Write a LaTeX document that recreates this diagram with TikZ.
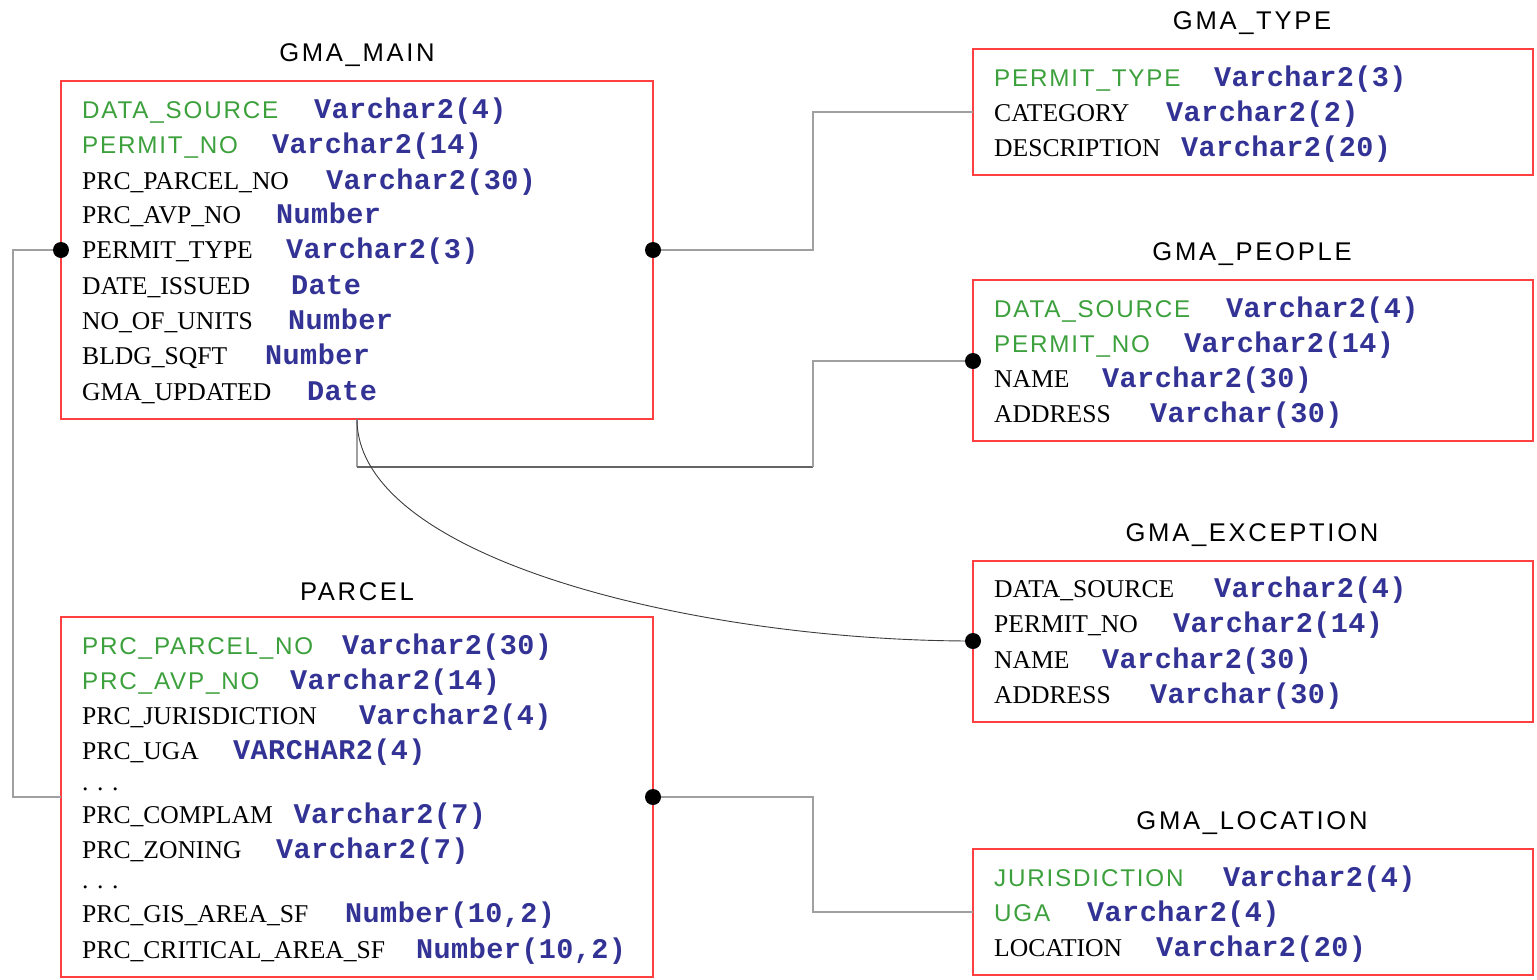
\documentclass[tikz,border=0pt]{standalone}
\usepackage{fontspec}
\setmainfont{Liberation Serif}
\newfontfamily\keyfont[LetterSpace=7.5]{Liberation Sans}
\newfontfamily\titlefont[LetterSpace=10.5]{Liberation Sans}
\newfontfamily\typefont[LetterSpace=1.5]{Liberation Mono}
\definecolor{boxred}{RGB}{255,64,64}
\definecolor{keygreen}{RGB}{60,160,60}
\definecolor{typeblue}{RGB}{51,51,150}
\definecolor{conngray}{RGB}{160,160,160}
\definecolor{conndark}{RGB}{100,100,100}
\definecolor{curvegray}{RGB}{60,60,60}
\begin{document}
\begin{tikzpicture}[x=1pt,y=-1pt,
  tbl/.style={anchor=north west, inner sep=0pt, outer sep=0pt},
  boxline/.style={draw=boxred, line width=1.3pt},
  ttl/.style={font={\titlefont\fontsize{25.6}{30}\selectfont}, anchor=base, inner sep=0pt},
  key/.style={font={\keyfont\fontsize{24.2}{28}\selectfont}, text=keygreen, anchor=base west, inner sep=0pt},
  fld/.style={font={\fontsize{25.6}{30}\selectfont}, anchor=base west, inner sep=0pt},
  typ/.style={font={\typefont\bfseries\fontsize{28.5}{30}\selectfont}, text=typeblue, anchor=base west, inner sep=0pt},
  dotc/.style={circle, fill=black, inner sep=0pt, minimum size=16pt},
  conn/.style={draw=conngray, line width=1.2pt},
  conndk/.style={draw=conndark, line width=1.2pt},
  curve/.style={draw=curvegray, line width=0.9pt}]
\useasboundingbox (0,0) rectangle (1537,980);

% ---------- tables ----------
\node[tbl, minimum width=592pt, minimum height=338pt] (main) at (61,81) {};
\node[tbl, minimum width=560pt, minimum height=126pt] (type) at (973,49) {};
\node[tbl, minimum width=560pt, minimum height=161pt] (people) at (973,280) {};
\node[tbl, minimum width=560pt, minimum height=161pt] (exc) at (973,561) {};
\node[tbl, minimum width=560pt, minimum height=126pt] (loc) at (973,849) {};
\node[tbl, minimum width=592pt, minimum height=360pt] (parcel) at (61,617) {};
\foreach \t in {main,type,people,exc,loc,parcel}
  \draw[boxline] (\t.north west) rectangle (\t.south east);

% ---------- titles ----------
\node[ttl] (tmain) at (357,61) {GMA\_MAIN};
\node[ttl] (ttype) at (1252,29) {GMA\_TYPE};
\node[ttl] (tpeople) at (1252,260) {GMA\_PEOPLE};
\node[ttl] (texc) at (1252,541) {GMA\_EXCEPTION};
\node[ttl] (tloc) at (1252,829) {GMA\_LOCATION};
\node[ttl] (tparcel) at (357,600) {PARCEL};

% ---------- GMA_MAIN fields ----------
\node[key] (m1n) at (82,118) {DATA\_SOURCE};
\node[typ] (m1t) at (314,118) {Varchar2(4)};
\node[key] (m2n) at (82,153) {PERMIT\_NO};
\node[typ] (m2t) at (272,153) {Varchar2(14)};
\node[fld] (m3n) at (82,189) {PRC\_PARCEL\_NO};
\node[typ] (m3t) at (326,189) {Varchar2(30)};
\node[fld] (m4n) at (82,223) {PRC\_AVP\_NO};
\node[typ] (m4t) at (276,223) {Number};
\node[fld] (m5n) at (82,258) {PERMIT\_TYPE};
\node[typ] (m5t) at (286,258) {Varchar2(3)};
\node[fld] (m6n) at (82,294) {DATE\_ISSUED};
\node[typ] (m6t) at (291,294) {Date};
\node[fld] (m7n) at (82,329) {NO\_OF\_UNITS};
\node[typ] (m7t) at (288,329) {Number};
\node[fld] (m8n) at (82,364) {BLDG\_SQFT};
\node[typ] (m8t) at (265,364) {Number};
\node[fld] (m9n) at (82,400) {GMA\_UPDATED};
\node[typ] (m9t) at (307,400) {Date};

% ---------- GMA_TYPE fields ----------
\node[key] (t1n) at (994,86) {PERMIT\_TYPE};
\node[typ] (t1t) at (1214,86) {Varchar2(3)};
\node[fld] (t2n) at (994,121) {CATEGORY};
\node[typ] (t2t) at (1166,121) {Varchar2(2)};
\node[fld] (t3n) at (994,156) {DESCRIPTION};
\node[typ] (t3t) at (1181,156) {Varchar2(20)};

% ---------- GMA_PEOPLE fields ----------
\node[key] (p1n) at (994,317) {DATA\_SOURCE};
\node[typ] (p1t) at (1226,317) {Varchar2(4)};
\node[key] (p2n) at (994,352) {PERMIT\_NO};
\node[typ] (p2t) at (1184,352) {Varchar2(14)};
\node[fld] (p3n) at (994,387) {NAME};
\node[typ] (p3t) at (1102,387) {Varchar2(30)};
\node[fld] (p4n) at (994,422) {ADDRESS};
\node[typ] (p4t) at (1150,422) {Varchar(30)};

% ---------- GMA_EXCEPTION fields ----------
\node[fld] (e1n) at (994,597) {DATA\_SOURCE};
\node[typ] (e1t) at (1214,597) {Varchar2(4)};
\node[fld] (e2n) at (994,632) {PERMIT\_NO};
\node[typ] (e2t) at (1173,632) {Varchar2(14)};
\node[fld] (e3n) at (994,668) {NAME};
\node[typ] (e3t) at (1102,668) {Varchar2(30)};
\node[fld] (e4n) at (994,703) {ADDRESS};
\node[typ] (e4t) at (1150,703) {Varchar(30)};

% ---------- GMA_LOCATION fields ----------
\node[key] (l1n) at (994,886) {JURISDICTION};
\node[typ] (l1t) at (1223,886) {Varchar2(4)};
\node[key] (l2n) at (994,921) {UGA};
\node[typ] (l2t) at (1087,921) {Varchar2(4)};
\node[fld] (l3n) at (994,956) {LOCATION};
\node[typ] (l3t) at (1156,956) {Varchar2(20)};

% ---------- PARCEL fields ----------
\node[key] (r1n) at (82,654) {PRC\_PARCEL\_NO};
\node[typ] (r1t) at (342,654) {Varchar2(30)};
\node[key] (r2n) at (82,689) {PRC\_AVP\_NO};
\node[typ] (r2t) at (290,689) {Varchar2(14)};
\node[fld] (r3n) at (82,724) {PRC\_JURISDICTION};
\node[typ] (r3t) at (359,724) {Varchar2(4)};
\node[fld] (r4n) at (82,759) {PRC\_UGA};
\node[typ] (r4t) at (233,759) {VARCHAR2(4)};
\node[fld] (r5n) at (82,790) {. . .};
\node[fld] (r6n) at (82,823) {PRC\_COMPLAM};
\node[typ] (r6t) at (293.5,823) {Varchar2(7)};
\node[fld] (r7n) at (82,858) {PRC\_ZONING};
\node[typ] (r7t) at (276,858) {Varchar2(7)};
\node[fld] (r8n) at (82,888) {. . .};
\node[fld] (r9n) at (82,922) {PRC\_GIS\_AREA\_SF};
\node[typ] (r9t) at (345,922) {Number(10,2)};
\node[fld] (r10n) at (82,958) {PRC\_CRITICAL\_AREA\_SF};
\node[typ] (r10t) at (416,958) {Number(10,2)};

% ---------- connection points ----------
\coordinate (mainL) at (61,250);
\coordinate (mainR) at (653,250);
\coordinate (mainB) at (357,419);
\coordinate (typeIn) at (973,112);
\coordinate (peopleIn) at (973,361);
\coordinate (excIn) at (973,641);
\coordinate (locIn) at (973,912);
\coordinate (parcelL) at (61,797);
\coordinate (parcelR) at (653,797);

% ---------- connectors ----------
\draw[conn] (mainR) -- (813,250) |- (typeIn);
\draw[conn] (mainL) -- (13,250) |- (parcelL);
\draw[conn] (parcelR) -- (813,797) |- (locIn);
\draw[conn] (mainB) -- (357,467);
\draw[conndk] (357,467) -- (813,467);
\draw[conn] (813,467) |- (peopleIn);
\draw[curve] (mainB) .. controls (357,560) and (700,641) .. (excIn);

% ---------- dots ----------
\node[dotc] (dML) at (mainL) {};
\node[dotc] (dMR) at (mainR) {};
\node[dotc] (dP) at (peopleIn) {};
\node[dotc] (dE) at (excIn) {};
\node[dotc] (dPR) at (parcelR) {};
\end{tikzpicture}
\end{document}
